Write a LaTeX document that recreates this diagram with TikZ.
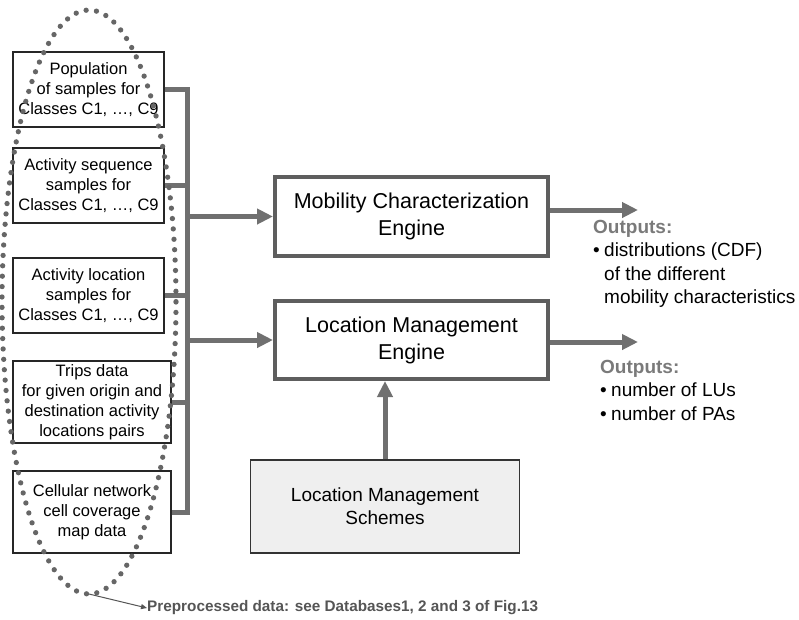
\documentclass[tikz,border=0pt]{standalone}
\usepackage{fontspec}
\setmainfont{Liberation Sans}
\usetikzlibrary{arrows.meta}
\definecolor{busgray}{HTML}{707070}
\definecolor{framegray}{HTML}{5E5E5E}
\definecolor{dotgray}{HTML}{666666}
\definecolor{outgray}{HTML}{7A7A7A}
\definecolor{notegray}{HTML}{555555}
\definecolor{schemefill}{HTML}{EFEFEF}
\tikzset{
  inbox/.style={draw=black!85, line width=1.1pt, align=center, inner sep=0pt,
    font=\fontsize{16.5}{20}\selectfont},
  engine/.style={draw=framegray, line width=4pt, align=center, inner sep=0pt,
    minimum width=273pt, font=\fontsize{21.5}{27}\selectfont},
  scheme/.style={draw=black!80, line width=1.2pt, fill=schemefill, align=center,
    inner sep=0pt, minimum width=269pt, minimum height=93pt,
    font=\fontsize{19}{23}\selectfont},
  bus/.style={draw=busgray, line width=5pt},
  feed/.style={bus, -{Triangle[length=16pt,width=15pt]}},
  outtext/.style={align=left, inner sep=0pt, anchor=north west,
    font=\fontsize{19}{23.5}\selectfont},
  dotring/.style={draw=dotgray, line width=5.3pt, line cap=round,
    dash pattern=on 0pt off 10.4pt},
}
\newcommand{\outhead}{{\color{outgray}\bfseries Outputs:}}
\newcommand{\bul}{\makebox[11pt][l]{\textbullet}}
\begin{document}
\begin{tikzpicture}[x=1pt,y=-1pt]
\useasboundingbox (0,0) rectangle (799,619);

% input data boxes
\node[inbox, minimum width=151pt, minimum height=75pt] (b1) at (88.5,89.5)
  {Population\\ of samples for\\ Classes C1, …, C9};
\node[inbox, minimum width=151pt, minimum height=75pt] (b2) at (88.5,185.5)
  {Activity sequence\\ samples for\\ Classes C1, …, C9};
\node[inbox, minimum width=151pt, minimum height=75pt] (b3) at (88.5,295.5)
  {Activity location\\ samples for\\ Classes C1, …, C9};
\node[inbox, minimum width=158pt, minimum height=82pt] (b4) at (92,402)
  {Trips data\\ for given origin and\\ destination activity\\ locations pairs};
\node[inbox, minimum width=158pt, minimum height=82pt] (b5) at (92,512)
  {Cellular network\\ cell coverage\\ map data};

% engines and schemes
\node[engine, minimum height=79pt] (mce) at (411.5,216.5)
  {Mobility Characterization\\ Engine};
\node[engine, minimum height=78pt] (lme) at (411.5,340)
  {Location Management\\ Engine};
\node[scheme] (lms) at (385,506.5) {Location Management\\ Schemes};

% collecting bus
\coordinate (busx) at (187,0);
\draw[bus] (b1.east) -- (b1.east -| busx) -- (b5.east -| busx) -- (b5.east);
\foreach \b in {b2,b3,b4} \draw[bus] (\b.east) -- (\b.east -| busx);
\draw[feed] (mce.west -| busx) -- (mce.west);
\draw[feed] (lme.west -| busx) -- (lme.west);
\draw[feed] (lms.north) -- (lms.north |- lme.south);

% outputs
\coordinate (o1) at (638,210);
\coordinate (o2) at (638,342);
\draw[feed] (mce.east |- o1) -- (o1);
\draw[feed] (lme.east |- o2) -- (o2);
\node[outtext] (t1) at (593,220)
  {\outhead\\ \bul distributions (CDF)\\ \hspace*{11pt}of the different\\
   \hspace*{11pt}mobility characteristics};
\node[outtext] (t2) at (600,360)
  {\outhead\\ \bul number of LUs\\ \bul number of PAs};

% preprocessed data ring
\draw[dotring] (89,302) ellipse [x radius=87, y radius=292];
\coordinate (ringbot) at (89,594);
\node[anchor=west, inner sep=0pt, text=notegray,
  font=\fontsize{15.3}{18}\selectfont\bfseries] (note) at (147,608)
  {Preprocessed data: see Databases1, 2 and 3 of Fig.13};
\draw[draw=notegray, line width=1pt, -{Triangle[length=6pt,width=5pt]}]
  (ringbot) -- (note.west);
\end{tikzpicture}
\end{document}
